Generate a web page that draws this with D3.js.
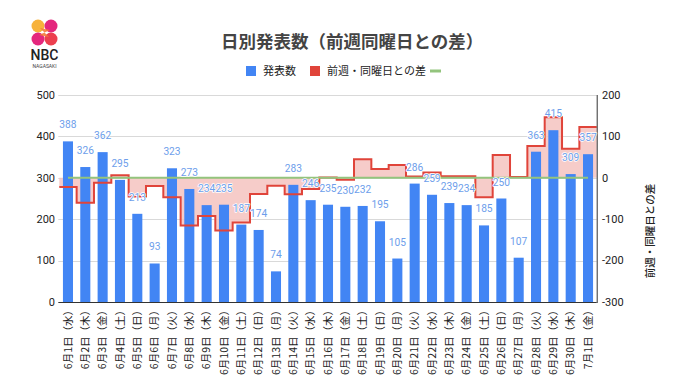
<!DOCTYPE html>
<html><head><meta charset="utf-8">
<script src="https://cdn.jsdelivr.net/npm/d3@7"></script>
<style>
html,body{margin:0;padding:0;background:#fff;}
svg{display:block;font-family:Roboto,"Noto Sans CJK JP",sans-serif;}
</style></head>
<body><svg id="c" width="680" height="382"></svg>
<script>
const categories = ["6月1日（水）","6月2日（木）","6月3日（金）","6月4日（土）","6月5日（日）","6月6日（月）","6月7日（火）",
"6月8日（水）","6月9日（木）","6月10日（金）","6月11日（土）","6月12日（日）","6月13日（月）","6月14日（火）",
"6月15日（水）","6月16日（木）","6月17日（金）","6月18日（土）","6月19日（日）","6月20日（月）","6月21日（火）",
"6月22日（水）","6月23日（木）","6月24日（金）","6月25日（土）","6月26日（日）","6月27日（月）","6月28日（火）",
"6月29日（水）","6月30日（木）","7月1日（金）"];
const counts = [388,326,362,295,213,93,323,273,234,235,187,174,74,283,246,235,230,232,195,105,286,259,239,234,185,250,107,363,415,309,357];
const diffs = [-22,-60,-12,6,-45,-20,-47,-115,-92,-127,-108,-39,-19,-40,-27,1,-5,45,21,31,3,13,4,4,-47,55,2,77,146,70,123];
const zeroLine = categories.map(() => 0);
const leftTicks = [0,100,200,300,400,500];
const rightTicks = [-300,-200,-100,0,100,200];
const title = "日別発表数（前週同曜日との差）";
const legendLabels = ["発表数","前週・同曜日との差",""];
const rightTitle = "前週・同曜日との差";

const svg = d3.select("#c");
const L = 59.3, R = 596.7, T = 95, B = 302;
const x = d3.scaleBand().domain(d3.range(categories.length)).range([L, R]).paddingInner(0.42).paddingOuter(0.21);
const step = x.step();
const yL = d3.scaleLinear().domain([0,500]).range([B,T]);
const yR = d3.scaleLinear().domain([-300,200]).range([B,T]);
const cx = i => x(i) + x.bandwidth()/2;
const bandStart = i => cx(i) - step/2;

// gridlines
svg.append("g").selectAll("line").data(leftTicks.slice(1)).join("line")
  .attr("x1", L-1).attr("x2", R).attr("y1", d=>Math.round(yL(d))+0.5).attr("y2", d=>Math.round(yL(d))+0.5)
  .attr("stroke","#d9d9d9").attr("stroke-width",1);

// left tick labels
svg.append("g").selectAll("text").data(leftTicks).join("text")
  .attr("x", 55).attr("y", d=>yL(d)).attr("dy","0.35em").attr("text-anchor","end")
  .attr("font-size",11).attr("fill","#222").text(d=>d);
// right tick labels
svg.append("g").selectAll("text").data(rightTicks).join("text")
  .attr("x", 602).attr("y", d=>yR(d)).attr("dy","0.35em").attr("text-anchor","start")
  .attr("font-size",11).attr("fill","#222").text(d=>d);

// stepped area
const pts = diffs.map((v,i)=>({x: bandStart(i), v}));
pts.push({x: bandStart(diffs.length-1)+step, v: diffs[diffs.length-1]});
const area = d3.area().x(d=>d.x).y0(yR(0)).y1(d=>yR(d.v)).curve(d3.curveStepAfter);
const line = d3.line().x(d=>d.x).y(d=>yR(d.v)).curve(d3.curveStepAfter);
svg.append("path").attr("d", area(pts)).attr("fill","#f4c3bf").attr("fill-opacity",0.85);

// bars
svg.append("g").selectAll("rect").data(counts).join("rect")
  .attr("x",(d,i)=>x(i)).attr("width",x.bandwidth())
  .attr("y",d=>yL(d)).attr("height",d=>B-yL(d)).attr("fill","#4285f4");

// step line
svg.append("path").attr("d", line(pts)).attr("fill","none").attr("stroke","#e0443a").attr("stroke-width",2);

// green zero line
svg.append("path").attr("d", d3.line().x((d,i)=>cx(i)).y(d=>yR(d))(zeroLine))
  .attr("fill","none").attr("stroke","#93c47d").attr("stroke-width",2);

// axes lines
svg.append("line").attr("x1",L-1).attr("x2",R).attr("y1",B+0.5).attr("y2",B+0.5).attr("stroke","#333").attr("stroke-width",1);
svg.append("line").attr("x1",R+0.5).attr("x2",R+0.5).attr("y1",T).attr("y2",B+1).attr("stroke","#333").attr("stroke-width",1);

// value labels
svg.append("g").selectAll("text").data(counts).join("text")
  .attr("x",(d,i)=>cx(i)).attr("y",d=>yL(d)-13).attr("text-anchor","middle")
  .attr("font-size",10.2).attr("fill","#6d9eeb")
  .attr("stroke","#fff").attr("stroke-width",1.5).attr("paint-order","stroke").attr("stroke-linejoin","round")
  .text(d=>d);

// x labels
svg.append("g").selectAll("text").data(categories).join("text")
  .attr("transform",(d,i)=>`translate(${cx(i)},${B+3}) rotate(-90)`)
  .attr("dy","0.35em").attr("text-anchor","end")
  .attr("font-family","'Noto Sans CJK JP',sans-serif").attr("font-size",10.5).attr("fill","#222")
  .text(d=>d);

// right axis title
svg.append("text").attr("transform","translate(650,231) rotate(-90)")
  .attr("text-anchor","middle").attr("dy","0.35em")
  .attr("font-family","'Noto Sans CJK JP',sans-serif").attr("font-size",10.5).attr("fill","#222").attr("font-weight","500")
  .text(rightTitle);

// title
svg.append("text").attr("x",221).attr("y",42).attr("dy","0.35em")
  .attr("font-family","'Noto Sans CJK JP',sans-serif").attr("font-size",17.5).attr("font-weight","bold").attr("fill","#444")
  .text(title);

// legend
const lg = svg.append("g").attr("font-family","'Noto Sans CJK JP',sans-serif").attr("font-size",11).attr("fill","#222");
lg.append("rect").attr("x",246).attr("y",66).attr("width",10).attr("height",10).attr("fill","#4285f4");
lg.append("text").attr("x",263).attr("y",71).attr("dy","0.35em").text(legendLabels[0]);
lg.append("rect").attr("x",310).attr("y",66).attr("width",10).attr("height",10).attr("fill","#e0443a");
lg.append("text").attr("x",327).attr("y",71).attr("dy","0.35em").text(legendLabels[1]);
lg.append("line").attr("x1",430).attr("x2",441).attr("y1",71).attr("y2",71).attr("stroke","#93c47d").attr("stroke-width",3);

// logo
const logo = svg.append("g");
logo.append("circle").attr("cx",38).attr("cy",26).attr("r",6.5).attr("fill","#f7b23b");
logo.append("circle").attr("cx",51).attr("cy",26).attr("r",6.5).attr("fill","#e4277d");
logo.append("circle").attr("cx",38).attr("cy",39).attr("r",6.5).attr("fill","#e4277d");
logo.append("circle").attr("cx",51).attr("cy",39).attr("r",6.5).attr("fill","#ec3f4f");
logo.append("path").attr("d","M40,28 L50,30 L39,35 L49,37 Z").attr("fill","#f47b3a").attr("opacity",0.9);
logo.append("text").attr("x",44.5).attr("y",60).attr("text-anchor","middle").attr("font-family","Roboto,sans-serif")
  .attr("font-size",14).attr("font-weight","500").attr("fill","#222").text("NBC");
logo.append("text").attr("x",44.5).attr("y",68).attr("text-anchor","middle").attr("font-family","Roboto,sans-serif")
  .attr("font-size",5).attr("fill","#444").text("NAGASAKI");
</script></body></html>
